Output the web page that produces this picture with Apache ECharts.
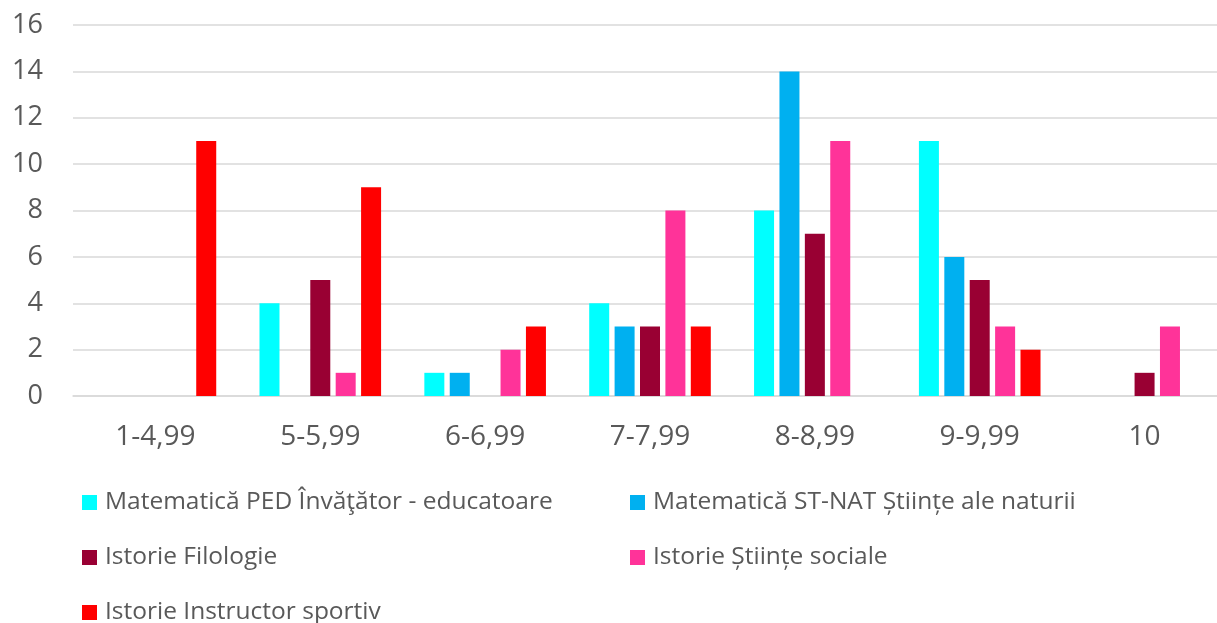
<!DOCTYPE html>
<html>
<head>
<meta charset="utf-8">
<script src="https://cdn.jsdelivr.net/npm/echarts@6/dist/echarts.min.js"></script>
<style>
  html, body { margin: 0; padding: 0; background: #fff; }
  #chart { width: 1217px; height: 623px; }
</style>
</head>
<body>
<div id="chart"></div>
<script>
const categories = ['1-4,99', '5-5,99', '6-6,99', '7-7,99', '8-8,99', '9-9,99', '10'];
const seriesNames = [
  'Matematică PED Învăţător - educatoare',
  'Matematică ST-NAT Științe ale naturii',
  'Istorie Filologie',
  'Istorie Științe sociale',
  'Istorie Instructor sportiv'
];
const matPed = [0, 4, 1, 4, 8, 11, 0];
const matStNat = [0, 0, 1, 3, 14, 6, 0];
const istFilologie = [0, 5, 0, 3, 7, 5, 1];
const istSociale = [0, 1, 2, 8, 11, 3, 3];
const istSport = [11, 9, 3, 3, 0, 2, 0];
const yTicks = [0, 16, 2]; // min, max, step

const colors = ['#00FFFF', '#00B0F0', '#990033', '#FF3399', '#FF0000'];
const values = [matPed, matStNat, istFilologie, istSociale, istSport];
const fontFamily = '"Open Sans", sans-serif';
const textColor = '#595959';

// legend slots: [left, top] for each series, two columns like the original
const legendPos = [[82, 490], [630, 490], [82, 545], [630, 545], [82, 600]];

const chart = echarts.init(document.getElementById('chart'));

chart.setOption({
  animation: false,
  color: colors,
  grid: { left: 73, top: 25, width: 1154, height: 371, outerBoundsMode: 'none' },
  legend: seriesNames.map(function (name, i) {
    return {
      left: legendPos[i][0],
      top: legendPos[i][1],
      padding: 0,
      data: [name],
      icon: 'rect',
      itemWidth: 15,
      itemHeight: 15,
      textStyle: { fontFamily: fontFamily, fontSize: 24.5, color: textColor, padding: [0, 0, 0, 3] }
    };
  }),
  xAxis: {
    type: 'category',
    data: categories,
    axisLine: { lineStyle: { color: '#D9D9D9', width: 1.5 } },
    axisTick: { show: false },
    axisLabel: { fontFamily: fontFamily, fontSize: 28, color: textColor, margin: 27 }
  },
  yAxis: {
    type: 'value',
    min: yTicks[0],
    max: yTicks[1],
    interval: yTicks[2],
    axisLine: { show: false },
    axisTick: { show: false },
    splitLine: { lineStyle: { color: '#D9D9D9', width: 1.5 } },
    axisLabel: { fontFamily: fontFamily, fontSize: 27, color: textColor, margin: 30 }
  },
  series: seriesNames.map(function (name, i) {
    return {
      name: name,
      type: 'bar',
      data: values[i],
      barWidth: 20,
      barGap: '27%',
      itemStyle: { color: colors[i] }
    };
  })
});
</script>
</body>
</html>
